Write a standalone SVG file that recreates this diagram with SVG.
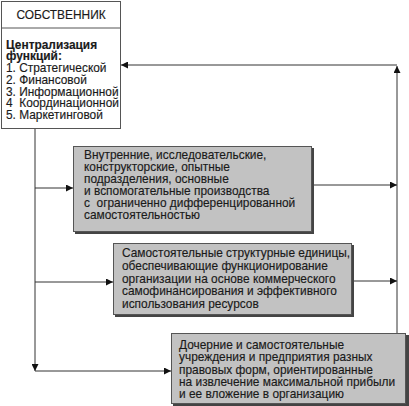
<svg xmlns="http://www.w3.org/2000/svg" width="409" height="406" viewBox="0 0 409 406">
<style>
.t{font-family:"Liberation Sans",Arial,sans-serif;font-size:11.9px;fill:#1a1a1a;white-space:pre;stroke:#1a1a1a;stroke-width:0.15}
.b{font-weight:bold}
.ln{stroke:#333;stroke-width:1;fill:none}
.box{fill:#c2c2c2;stroke:#555;stroke-width:1}
.sh{fill:#444}
</style>
<defs>
<marker id="ah" markerWidth="8" markerHeight="7" refX="7" refY="3.5" orient="auto" markerUnits="userSpaceOnUse">
<path d="M0,0 L7,3.5 L0,7 Z" fill="#111"/>
</marker>
</defs>
<rect width="409" height="406" fill="#fff"/>
<g id="connectors">
<path class="ln" d="M397,333 V66" marker-end="url(#ah)"/>
<path class="ln" d="M397,65 H121" marker-end="url(#ah)"/>
<path class="ln" d="M35,129 V371" marker-end="url(#ah)"/>
<path class="ln" d="M35,371 H171" marker-end="url(#ah)"/>
<path class="ln" d="M35,188 H73" marker-end="url(#ah)"/>
<path class="ln" d="M35,282 H113" marker-end="url(#ah)"/>
<path class="ln" d="M312,185 H397" marker-end="url(#ah)"/>
<path class="ln" d="M352,281 H397" marker-end="url(#ah)"/>
</g>
<g id="owner">
<rect x="1.5" y="1.5" width="119" height="127" fill="#fff" stroke="#555"/>
<line x1="1.5" y1="28" x2="120.5" y2="28" stroke="#555"/>
<text class="t" x="61" y="19" text-anchor="middle">СОБСТВЕННИК</text>
<text class="t b" x="6" y="48.5">Централизация</text>
<text class="t b" x="6" y="60.3">функций:</text>
<text class="t" x="6" y="72">1. Стратегической</text>
<text class="t" x="6" y="83.8">2. Финансовой</text>
<text class="t" x="6" y="95.5">3. Информационной</text>
<text class="t" x="6" y="107.3">4  Координационной</text>
<text class="t" x="6" y="119">5. Маркетинговой</text>
</g>
<g id="unit1">
<rect class="sh" x="75" y="148" width="239" height="86"/>
<rect class="box" x="73.5" y="146.5" width="238" height="85"/>
<text class="t" x="84" y="159">Внутренние, исследовательские,</text>
<text class="t" x="84" y="171">конструкторские, опытные</text>
<text class="t" x="84" y="183">подразделения, основные</text>
<text class="t" x="84" y="195">и вспомогательные производства</text>
<text class="t" x="84" y="207">с  ограниченно дифференцированной</text>
<text class="t" x="84" y="219">самостоятельностью</text>
</g>
<g id="unit2">
<rect class="sh" x="115" y="245" width="239" height="72"/>
<rect class="box" x="113.5" y="243.5" width="238" height="71"/>
<text class="t" x="122" y="257">Самостоятельные структурные единицы,</text>
<text class="t" x="122" y="270">обеспечивающие функционирование</text>
<text class="t" x="122" y="282.5">организации на основе коммерческого</text>
<text class="t" x="122" y="295">самофинансирования и эффективного</text>
<text class="t" x="122" y="308">использования ресурсов</text>
</g>
<g id="unit3">
<rect class="sh" x="173" y="335" width="236" height="71"/>
<rect class="box" x="171.5" y="333.5" width="234" height="70"/>
<text class="t" x="179" y="349">Дочерние и самостоятельные</text>
<text class="t" x="179" y="361">учреждения и предприятия разных</text>
<text class="t" x="179" y="373.5">правовых форм, ориентированные</text>
<text class="t" x="179" y="386">на извлечение максимальной прибыли</text>
<text class="t" x="179" y="398">и ее вложение в организацию</text>
</g>
</svg>
